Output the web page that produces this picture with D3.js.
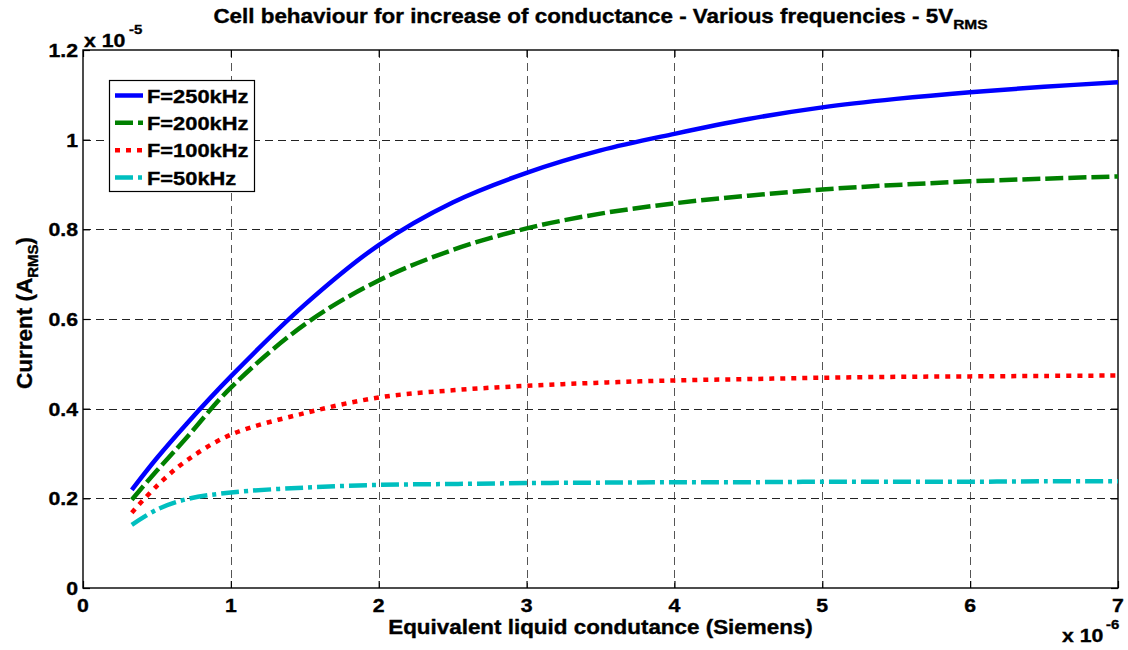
<!DOCTYPE html>
<html>
<head>
<meta charset="utf-8">
<script src="https://cdn.jsdelivr.net/npm/d3@7"></script>
<style>
  html, body { margin: 0; padding: 0; background: #fff; }
  svg { display: block; }
  text { font-family: "Liberation Sans", Arial, Helvetica, sans-serif; font-weight: bold; fill: #000; stroke: #000; stroke-width: 0.35px; }
</style>
</head>
<body>
<svg id="chart" width="1128" height="650"></svg>
<script>
// Conductance sample points (units of 1e-6 S)
const conductance = [0.33, 0.5, 0.7, 1, 1.5, 2, 2.5, 3, 3.5, 4, 4.5, 5, 5.5, 6, 6.5, 7];

// RMS current per frequency (units of 1e-5 A)
const current250k = [0.219, 0.290, 0.366, 0.472, 0.632, 0.765, 0.860, 0.926, 0.976, 1.013, 1.046, 1.072, 1.091, 1.106, 1.118, 1.128];
const current200k = [0.197, 0.262, 0.335, 0.447, 0.588, 0.686, 0.754, 0.802, 0.835, 0.858, 0.875, 0.889, 0.899, 0.907, 0.913, 0.918];
const current100k = [0.168, 0.228, 0.284, 0.342, 0.390, 0.425, 0.441, 0.451, 0.458, 0.463, 0.466, 0.469, 0.471, 0.472, 0.473, 0.474];
const current50k  = [0.141, 0.175, 0.198, 0.213, 0.224, 0.230, 0.232, 0.234, 0.235, 0.236, 0.236, 0.237, 0.237, 0.237, 0.238, 0.238];

const seriesNames = ["F=250kHz", "F=200kHz", "F=100kHz", "F=50kHz"];
const seriesValues = [current250k, current200k, current100k, current50k];

const xTicks = [0, 1, 2, 3, 4, 5, 6, 7];
const yTicks = [0, 0.2, 0.4, 0.6, 0.8, 1, 1.2];
const yTickLabels = ["0", "0.2", "0.4", "0.6", "0.8", "1", "1.2"];

// Line styling per series
const seriesStyles = [
  { color: "#0000ff", dash: null },
  { color: "#008000", dash: "18,5" },
  { color: "#ff0000", dash: "5,6" },
  { color: "#00bfbf", dash: "18,5,4,5" }
];

const svg = d3.select("#chart");
const margin = { left: 83, top: 50, right: 10, bottom: 62 };
const W = 1128, H = 650;
const plotW = W - margin.left - margin.right;   // 1035
const plotH = H - margin.top - margin.bottom;   // 538

const x = d3.scaleLinear().domain([0, 7]).range([margin.left, margin.left + plotW]);
const y = d3.scaleLinear().domain([0, 1.2]).range([margin.top + plotH, margin.top]);

const SX = 1.15; // horizontal glyph stretch used for all labels

function label(g, px, py, str, size, anchor) {
  return g.append("text")
    .attr("transform", `translate(${px},${py}) scale(${SX},1)`)
    .attr("font-size", size)
    .attr("text-anchor", anchor || "start")
    .text(str);
}

// Grid lines
const grid = svg.append("g").attr("shape-rendering", "crispEdges");
grid.selectAll("line.gx").data(xTicks.slice(1, -1)).join("line")
  .attr("x1", d => Math.round(x(d)) + 0.5).attr("x2", d => Math.round(x(d)) + 0.5)
  .attr("y1", margin.top).attr("y2", margin.top + plotH)
  .attr("stroke", "#555").attr("stroke-width", 1).attr("stroke-dasharray", "8,5");
grid.selectAll("line.gy").data(yTicks.slice(1, -1)).join("line")
  .attr("y1", d => Math.round(y(d)) + 0.5).attr("y2", d => Math.round(y(d)) + 0.5)
  .attr("x1", margin.left).attr("x2", margin.left + plotW)
  .attr("stroke", "#222").attr("stroke-width", 1).attr("stroke-dasharray", "8,5");

// Axes with inward ticks on all four sides
const tickLen = 7;
const axB = svg.append("g").attr("transform", `translate(0,${margin.top + plotH})`)
  .call(d3.axisBottom(x).tickValues(xTicks).tickSize(-tickLen).tickFormat(""));
const axT = svg.append("g").attr("transform", `translate(0,${margin.top})`)
  .call(d3.axisTop(x).tickValues(xTicks).tickSize(-tickLen).tickFormat(""));
const axL = svg.append("g").attr("transform", `translate(${margin.left},0)`)
  .call(d3.axisLeft(y).tickValues(yTicks).tickSize(-tickLen).tickFormat(""));
const axR = svg.append("g").attr("transform", `translate(${margin.left + plotW},0)`)
  .call(d3.axisRight(y).tickValues(yTicks).tickSize(-tickLen).tickFormat(""));
[axB, axT, axL, axR].forEach(a => {
  a.select(".domain").remove();
  a.selectAll(".tick line").attr("stroke", "#000").attr("stroke-width", 1.2);
});

// Plot frame
svg.append("rect")
  .attr("x", margin.left).attr("y", margin.top)
  .attr("width", plotW).attr("height", plotH)
  .attr("fill", "none").attr("stroke", "#000").attr("stroke-width", 1.4);

// Curves
const line = d3.line()
  .x((d, i) => x(conductance[i]))
  .y(d => y(d))
  .curve(d3.curveCatmullRom.alpha(0.5));

const curves = svg.append("g");
seriesValues.forEach((vals, k) => {
  curves.append("path")
    .attr("d", line(vals))
    .attr("fill", "none")
    .attr("stroke", seriesStyles[k].color)
    .attr("stroke-width", 4.5)
    .attr("stroke-dasharray", seriesStyles[k].dash)
    .attr("stroke-linejoin", "round");
});

// Tick labels
const tl = svg.append("g");
yTicks.forEach((v, i) => {
  label(tl, margin.left - 5, y(v) + 7, yTickLabels[i], 18.5, "end");
});
xTicks.forEach(v => {
  label(tl, x(v), 612, String(v), 18.5, "middle");
});

// Exponent annotations
const ex = svg.append("g");
label(ex, 84, 47, "x 10", 18.5, "start");
label(ex, 129, 34, "-5", 13, "start");
label(ex, 1062, 642, "x 10", 18.5, "start");
label(ex, 1106, 629, "-6", 13, "start");

// Title
const title = svg.append("text")
  .attr("transform", `translate(${x(3.5)},23) scale(${SX},1)`)
  .attr("font-size", 19.5)
  .attr("text-anchor", "middle");
title.append("tspan").text("Cell behaviour for increase of conductance - Various frequencies - 5V");
title.append("tspan").attr("font-size", 13.5).attr("dy", 6).text("RMS");

// Axis labels
label(svg, x(3.5), 634, "Equivalent liquid condutance (Siemens)", 19.5, "middle");

const yl = svg.append("text")
  .attr("transform", `translate(32,${margin.top + plotH / 2 - 6}) rotate(-90)`)
  .attr("font-size", 22.5)
  .attr("text-anchor", "middle");
yl.append("tspan").text("Current (A");
yl.append("tspan").attr("font-size", 15).attr("dy", 6).text("RMS");
yl.append("tspan").attr("dy", -6).text(")");

// Legend
const lg = svg.append("g");
lg.append("rect")
  .attr("x", 109.5).attr("y", 80.5).attr("width", 145).attr("height", 111)
  .attr("fill", "#fff").attr("stroke", "#000").attr("stroke-width", 1.2);
const rowY = d3.scaleLinear().domain([0, 3]).range([95.5, 177.5]);
seriesNames.forEach((name, k) => {
  lg.append("line")
    .attr("x1", 115).attr("x2", 143)
    .attr("y1", rowY(k)).attr("y2", rowY(k))
    .attr("stroke", seriesStyles[k].color)
    .attr("stroke-width", 4.5)
    .attr("stroke-dasharray", seriesStyles[k].dash);
  label(lg, 147, rowY(k) + 7, name, 19, "start");
});
</script>
</body>
</html>
